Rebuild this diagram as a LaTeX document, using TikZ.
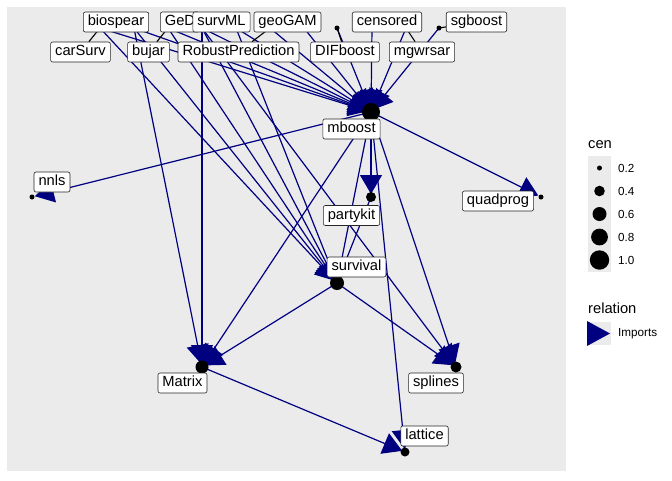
\documentclass[tikz,border=0pt]{standalone}
\usepackage{fontspec}
\setmainfont{Liberation Sans}
\usetikzlibrary{arrows.meta,backgrounds}
\definecolor{panelgray}{HTML}{EBEBEB}
\definecolor{linkblue}{HTML}{000080}
\tikzset{
    implink/.style = {
        draw=linkblue, line width=1.2pt,
        shorten >=3pt,
        -{Triangle[length=19pt,width=22pt]}
    },
    seg/.style = {
        draw=black, line width=1.1pt
    },
    lbl/.style = {
        draw=black!85, fill=white, rectangle, rounded corners=2pt,
        line width=0.6pt,
        inner xsep=4.5pt, inner ysep=3.2pt,
        text height=10.6pt, text depth=3pt,
        font=\fontsize{14.7}{16}\selectfont
    },
    legtitle/.style = {
        anchor=west, inner sep=0,
        font=\fontsize{14.7}{16}\selectfont
    },
    legtext/.style = {
        anchor=west, inner sep=0,
        font=\fontsize{11.7}{13}\selectfont
    }
}

\begin{document}
\begin{tikzpicture}[x=1pt,y=-1pt]
\useasboundingbox (0,0) rectangle (672,480);

\coordinate (carSurv)  at (100,28);
\coordinate (biospear) at (134,28);
\coordinate (bujar)    at (168,28);
\coordinate (survML)   at (202,28);
\coordinate (GeD)      at (236,28);
\coordinate (RobustPrediction) at (270,28);
\coordinate (geoGAM)   at (304,28);
\coordinate (DIFboost) at (337,28);
\coordinate (censored) at (372,28);
\coordinate (mgwrsar)  at (406,28);
\coordinate (sgboost)  at (439,28);

\coordinate (mboost)   at (371,112);
\coordinate (partykit) at (371,197);
\coordinate (nnls)     at (32,197);
\coordinate (quadprog) at (541,197);
\coordinate (survival) at (337,283);
\coordinate (Matrix)   at (202,367);
\coordinate (splines)  at (456,367);
\coordinate (lattice)  at (405,452);

\node[lbl](biospearL) at (116,22)   {biospear};
\node[lbl](GeDL)      at (180,22)   {GeD\hspace{6pt}};
\node[lbl](survMLL)   at (221.5,22) {survML};
\node[lbl](geoGAML)   at (287.5,22) {geoGAM};
\node[lbl](censoredL) at (387,22)   {censored};
\node[lbl](sgboostL)  at (476.5,22) {sgboost};
\node[lbl](carSurvL)  at (80.5,52)  {carSurv};
\node[lbl](bujarL)    at (148.5,52) {bujar};
\node[lbl](RobustPredictionL) at (238.5,52) {RobustPrediction};
\node[lbl](DIFboostL) at (345,52)   {DIFboost};
\node[lbl](mgwrsarL)  at (422,52)   {mgwrsar};

\node[lbl](mboostL)   at (351.5,129) {mboost};
\node[lbl](nnlsL)     at (52,182)    {nnls};
\node[lbl](quadprogL) at (498,201)   {quadprog};
\node[lbl](partykitL) at (351.5,215.5) {partykit};
\node[lbl](survivalL) at (356.5,267) {survival};
\node[lbl](MatrixL)   at (182.5,383) {Matrix};
\node[lbl](splinesL)  at (436,383)   {splines};
\node[lbl](latticeL)  at (424.5,436) {lattice};

\begin{scope}[on background layer]
\fill[panelgray] (7,7) rectangle (566,471);

\draw[implink] (carSurv) -- (mboost);
\draw[implink] (biospear) -- (mboost);
\draw[implink] (bujar) -- (mboost);
\draw[implink] (survML) -- (mboost);
\draw[implink] (GeD) -- (mboost);
\draw[implink] (RobustPrediction) -- (mboost);
\draw[implink] (geoGAM) -- (mboost);
\draw[implink] (DIFboost) -- (mboost);
\draw[implink] (censored) -- (mboost);
\draw[implink] (mgwrsar) -- (mboost);
\draw[implink] (sgboost) -- (mboost);

\draw[implink] (carSurv) -- (survival);
\draw[implink] (biospear) -- (survival);
\draw[implink] (bujar) -- (survival);
\draw[implink] (survML) -- (survival);
\draw[implink] (GeD) -- (survival);
\draw[implink] (biospear) -- (Matrix);
\draw[implink] (survML) -- (Matrix);
\draw[implink] (survML) -- (splines);

\draw[implink] (mboost) -- (nnls);
\draw[implink] (mboost) -- (quadprog);
\draw[implink] (mboost) -- (partykit);
\draw[implink] (mboost) -- (survival);
\draw[implink] (mboost) -- (Matrix);
\draw[implink] (mboost) -- (splines);
\draw[implink] (mboost) -- (lattice);
\draw[implink] (partykit) -- (survival);
\draw[implink] (survival) -- (Matrix);
\draw[implink] (survival) -- (splines);
\draw[implink] (Matrix) -- (lattice);

\fill (carSurv) circle (2.5pt);
\fill (biospear) circle (2.5pt);
\fill (bujar) circle (2.5pt);
\fill (survML) circle (2.5pt);
\fill (GeD) circle (2.5pt);
\fill (RobustPrediction) circle (2.5pt);
\fill (geoGAM) circle (2.5pt);
\fill (DIFboost) circle (2.5pt);
\fill (censored) circle (2.5pt);
\fill (mgwrsar) circle (2.5pt);
\fill (sgboost) circle (2.5pt);
\fill (mboost) circle (9pt);
\fill (partykit) circle (5pt);
\fill (nnls) circle (2.5pt);
\fill (quadprog) circle (2.5pt);
\fill (survival) circle (7pt);
\fill (Matrix) circle (6.5pt);
\fill (splines) circle (5.5pt);
\fill (lattice) circle (4.5pt);

\draw[seg] (carSurv) -- (carSurvL);
\draw[seg] (bujar) -- (bujarL);
\draw[seg] (RobustPrediction) -- (RobustPredictionL);
\draw[seg] (DIFboost) -- (DIFboostL);
\draw[seg] (mgwrsar) -- (mgwrsarL);
\draw[seg] (sgboost) -- (sgboostL);
\end{scope}

\node[legtitle](cenT) at (588,145) {cen};
\fill[panelgray] (588,156) rectangle (611,272);
\fill (599.5,168) circle (2.5pt);
\fill (599.5,191) circle (5.3pt);
\fill (599.5,214) circle (7pt);
\fill (599.5,237) circle (8.4pt);
\fill (599.5,260) circle (9.7pt);
\node[legtext](c02) at (618,168) {0.2};
\node[legtext](c04) at (618,191) {0.4};
\node[legtext](c06) at (618,214) {0.6};
\node[legtext](c08) at (618,237) {0.8};
\node[legtext](c10) at (618,260) {1.0};

\node[legtitle](relT) at (588,308) {relation};
\fill[panelgray] (588,322) rectangle (611,345);
\fill[linkblue] (587,321) -- (610,333.5) -- (587,346) -- cycle;
\node[legtext](impT) at (618,333.5) {Imports};

\end{tikzpicture}
\end{document}
